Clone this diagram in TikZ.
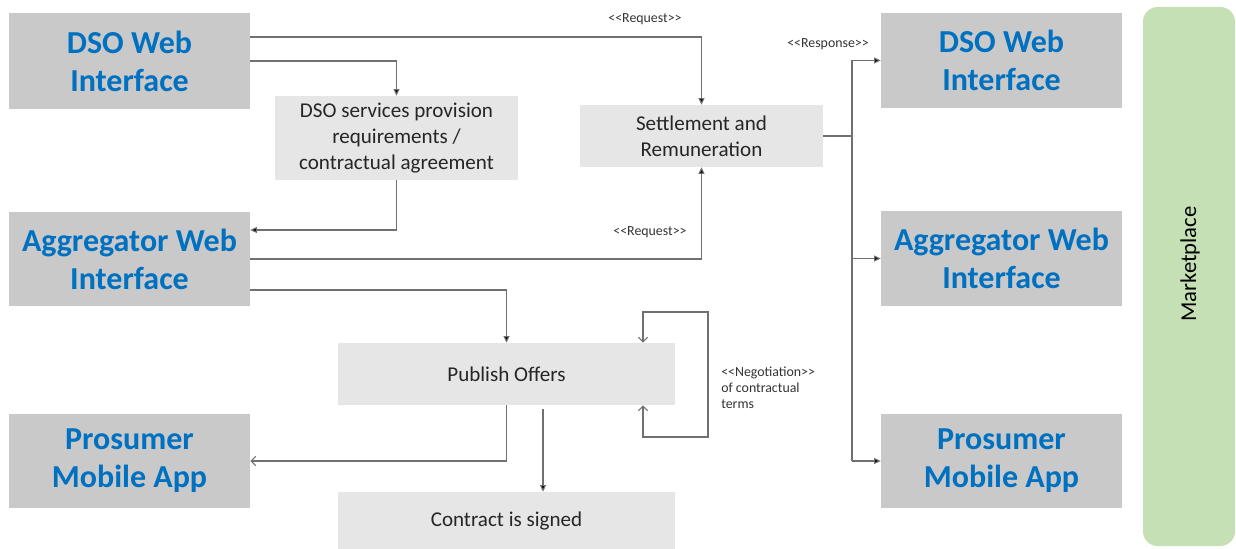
\documentclass[tikz,border=0pt]{standalone}
\usepackage{fontspec}
\setmainfont{Carlito}
\usetikzlibrary{arrows.meta}
\definecolor{boxdark}{HTML}{C9C9C9}
\definecolor{boxlight}{HTML}{E7E6E6}
\definecolor{titleblue}{HTML}{0070C0}
\definecolor{marketgreen}{HTML}{C5E0B4}
\definecolor{wire}{HTML}{707070}
% plain angle brackets, kept apart so they are not joined into guillemets
\newcommand{\stereo}[1]{<\kern0pt<#1>\kern0pt>}
\begin{document}
\begin{tikzpicture}[x=0.75pt,y=-0.75pt,
  actor/.style={fill=boxdark,draw=none,minimum width=180.75pt,minimum height=71pt,
    align=center,inner sep=0pt,text=titleblue,
    font=\fontsize{24}{28.5}\selectfont\bfseries},
  task/.style={fill=boxlight,draw=none,align=center,inner sep=0pt,text=black!85,
    font=\fontsize{15.8}{19.5}\selectfont},
  tag/.style={font=\fontsize{10.4}{12}\selectfont,text=black!80,inner sep=0pt},
  wireline/.style={draw=wire,line width=0.8pt},
  arr/.style={wireline,-{Triangle[length=5pt,width=4.5pt,fill=black]}},
  openarr/.style={wireline,-{Straight Barb[length=3.5pt,width=7pt]}}
]
\useasboundingbox (0,0) rectangle (1236,549);

% marketplace band
\node[fill=marketgreen,rounded corners=11pt,minimum width=69pt,minimum height=404.25pt,
  inner sep=0pt] (market) at (1189,276.5) {};
\node[rotate=90,font=\fontsize{17}{19}\selectfont,text=black] (mlabel) at (1190,264) {Marketplace};

% actors, left column
\node[actor,minimum height=72pt] (dsoL) at (129.5,61) {DSO Web\\Interface};
\node[actor] (aggL) at (129.5,259) {Aggregator Web\\Interface};
\node[actor] (prosL) at (129.5,461) {Prosumer\\Mobile App};

% actors, right column
\node[actor] (dsoR) at (1001.5,60.5) {DSO Web\\Interface};
\node[actor] (aggR) at (1001.5,258.5) {Aggregator Web\\Interface};
\node[actor] (prosR) at (1001.5,461) {Prosumer\\Mobile App};

% process steps
\node[task,minimum width=182.25pt,minimum height=63pt] (svc) at (396.5,138)
  {DSO services provision\\requirements /\\contractual agreement};
\node[task,minimum width=182.25pt,minimum height=46.5pt] (settle) at (701.5,136)
  {Settlement and\\Remuneration};
\node[task,minimum width=252.75pt,minimum height=46.5pt] (publish) at (506.5,374)
  {Publish Offers};
\node[task,minimum width=252.75pt,minimum height=42.75pt] (contract) at (506.5,520.5)
  {Contract is signed};

% DSO requests
\draw[arr] (dsoL.east |- 0,37) -| (settle.north);
\node[tag] (req1) at (645,19) {\stereo{Request}};
\draw[arr] (dsoL.east |- 0,61) -| (svc.north);
\draw[arr] (svc.south) |- (aggL.east |- 0,230);

% aggregator requests
\draw[arr] (aggL.east) -| (settle.south);
\node[tag] (req2) at (650,232) {\stereo{Request}};
\draw[arr] (aggL.east |- 0,290) -| (publish.north);

% responses to all actors
\coordinate (bus) at (852,0);
\draw[wireline] (settle.east) -- (settle.east -| bus);
\draw[wireline] (bus |- dsoR.west) -- (bus |- prosR.west);
\draw[arr] (bus |- dsoR.west) -- (dsoR.west);
\draw[arr] (bus |- aggR.west) -- (aggR.west);
\draw[arr] (bus |- prosR.west) -- (prosR.west);
\node[tag] (resp) at (828,44) {\stereo{Response}};

% offers
\draw[openarr] (publish.south) |- (prosL.east);
\draw[arr,shorten <=3pt] (publish.south -| 543,0) -- (contract.north -| 543,0);

% negotiation loop
\draw[wireline,{Straight Barb[length=3.5pt,width=7pt]}-{Straight Barb[length=3.5pt,width=7pt]}]
  (publish.north -| 643,0) -- (643,312) -- (708,312) -- (708,437) -- (643,437)
  -- (publish.south -| 643,0);
\node[tag,align=left,anchor=north west] (nego) at (721,367)
  {\stereo{Negotiation}\\of contractual\\terms};
\end{tikzpicture}
\end{document}
